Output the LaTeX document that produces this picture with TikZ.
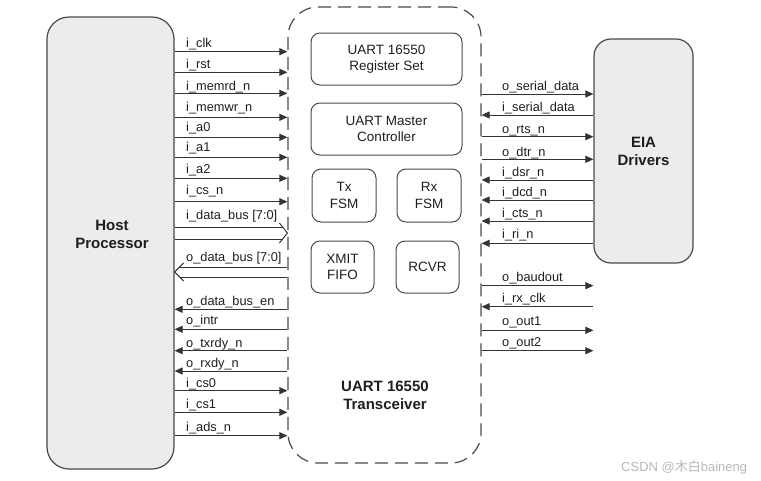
\documentclass[tikz,border=0pt]{standalone}
\usepackage{fontspec}
\setmainfont{Liberation Sans}
\newfontfamily\cjk{Noto Sans CJK SC}
\usetikzlibrary{arrows.meta}
\definecolor{linec}{HTML}{333333}
\definecolor{boxc}{HTML}{4A4A4A}
\definecolor{hostfill}{HTML}{ECECEC}
\definecolor{txt}{HTML}{1E1E1E}
\definecolor{wm}{HTML}{B8B8B8}
\begin{document}
\begin{tikzpicture}[x=1pt,y=-1pt,
  sig/.style={draw=linec, line width=1pt, -{Triangle[length=8pt,width=7pt]}},
  busline/.style={draw=linec, line width=1pt},
  lbl/.style={anchor=base west, inner sep=0pt, font=\fontsize{12.8}{14}\selectfont, text=txt},
  bigbox/.style={draw=boxc, fill=hostfill, line width=1.2pt, inner sep=0pt},
  biglbl/.style={align=center, inner sep=0pt, font=\fontsize{15}{18}\bfseries\selectfont, text=txt},
  blk/.style={draw=boxc, line width=1pt, rounded corners=9pt, align=center, inner sep=0pt,
    font=\fontsize{13.5}{16.5}\selectfont, text=txt},
  trbox/.style={draw=boxc, line width=1.2pt, dash pattern=on 13pt off 7pt, rounded corners=30pt, inner sep=0pt}
]
\useasboundingbox (0,0) rectangle (761,480);

% main blocks
\node[trbox, minimum width=193pt, minimum height=456pt] (trans) at (384.5,235) {};
\node[bigbox, rounded corners=22pt, minimum width=127pt, minimum height=452pt] (host) at (110.5,243) {};
\node[biglbl] (hostlbl) at (112,234) {Host\\Processor};
\node[bigbox, rounded corners=17pt, minimum width=99pt, minimum height=224pt] (eia) at (643.5,151) {};
\node[biglbl] (eialbl) at (643.5,151) {EIA\\Drivers};
\node[biglbl] (translbl) at (385,395) {UART 16550\\Transceiver};

% inner blocks
\node[blk, minimum width=151pt, minimum height=52pt] (reg) at (386.5,59) {UART 16550\\Register Set};
\node[blk, minimum width=151pt, minimum height=52pt] (mc) at (386.5,129) {UART Master\\Controller};
\node[blk, minimum width=64pt, minimum height=53pt] (tx) at (344,195.5) {Tx\\FSM};
\node[blk, minimum width=64pt, minimum height=53pt] (rx) at (429,195.5) {Rx\\FSM};
\node[blk, minimum width=63pt, minimum height=52pt] (xmit) at (342.5,267) {XMIT\\FIFO};
\node[blk, minimum width=63pt, minimum height=52pt] (rcvr) at (427.5,267) {RCVR};

% left side inputs
\foreach \ly/\sy/\t [count=\i] in {43.3/51.7/i\_clk, 64/72.3/i\_rst, 86/93.3/i\_memrd\_n,
  106.7/117.3/i\_memwr\_n, 127.3/137.3/i\_a0, 147.3/157.3/i\_a1, 169.3/178.3/i\_a2,
  190/201.7/i\_cs\_n, 383.3/390.7/i\_cs0, 404.3/412.3/i\_cs1, 427.3/435.7/i\_ads\_n}{
  \node[lbl] (li\i) at (186,\ly+4.5) {\t};
  \draw[sig] (host.east |- 0,\sy) -- (trans.west |- 0,\sy);
}
% left side outputs
\foreach \ly/\sy/\t [count=\i] in {301/309.3/o\_data\_bus\_en, 320/329.3/o\_intr,
  342.7/350.7/o\_txrdy\_n, 363.3/371/o\_rxdy\_n}{
  \node[lbl] (lo\i) at (186,\ly+4.5) {\t};
  \draw[sig] (trans.west |- 0,\sy) -- (host.east |- 0,\sy);
}

% buses
\node[lbl] (libus) at (186,219.5) {i\_data\_bus [7:0]};
\coordinate (ibT) at (trans.west |- 0,233);
\draw[busline] (host.east |- 0,227) -- ([shift={(-4.8,-6)}]ibT);
\draw[busline] (host.east |- 0,239) -- ([shift={(-4.8,6)}]ibT);
\draw[busline, line join=miter] ([shift={(-8,-10)}]ibT) -- (ibT) -- ([shift={(-8,10)}]ibT);

\node[lbl] (lobus) at (186,261.8) {o\_data\_bus [7:0]};
\coordinate (obT) at (host.east |- 0,272);
\draw[busline] ([shift={(5,-5)}]obT) -- (trans.west |- 0,267);
\draw[busline] ([shift={(5,5)}]obT) -- (trans.west |- 0,277);
\draw[busline, line join=miter] ([shift={(9,-9)}]obT) -- (obT) -- ([shift={(9,9)}]obT);

% right side outputs
\foreach \ly/\sy/\t [count=\i] in {86/94/o\_serial\_data, 129.3/136.7/o\_rts\_n,
  151.7/159.3/o\_dtr\_n, 277.3/285.7/o\_baudout, 320.7/330.3/o\_out1, 341.7/350.7/o\_out2}{
  \node[lbl] (ro\i) at (502,\ly+4.5) {\t};
  \draw[sig] (trans.east |- 0,\sy) -- (eia.west |- 0,\sy);
}
% right side inputs
\foreach \ly/\sy/\t [count=\i] in {106.7/115/i\_serial\_data, 171.7/180/i\_dsr\_n,
  192.3/200/i\_dcd\_n, 213.3/221/i\_cts\_n, 234/243.3/i\_ri\_n, 298.3/306.7/i\_rx\_clk}{
  \node[lbl] (ri\i) at (502,\ly+4.5) {\t};
  \draw[sig] (eia.west |- 0,\sy) -- (trans.east |- 0,\sy);
}

% watermark
\node[anchor=base west, inner sep=0pt, text=wm, font=\fontsize{13}{14}\selectfont] (wmark) at (621,471) {CSDN @{\cjk 木白}baineng};
\end{tikzpicture}
\end{document}
